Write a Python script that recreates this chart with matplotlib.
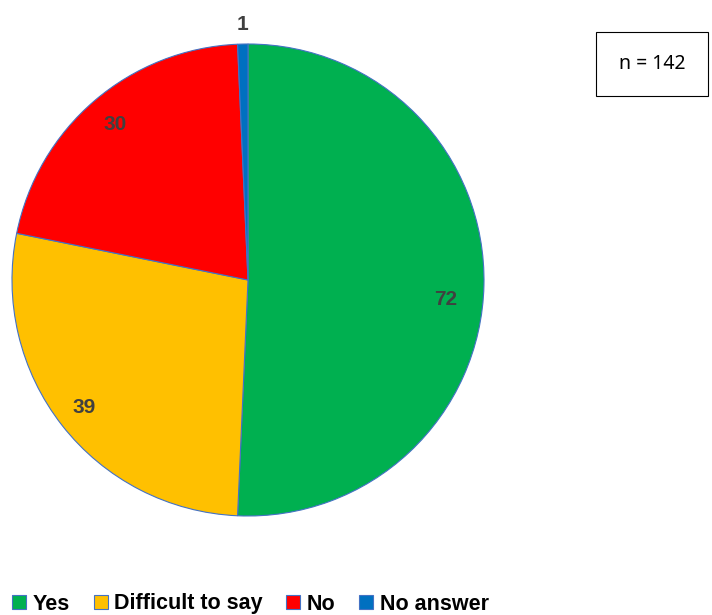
import numpy as np
import matplotlib
matplotlib.use("Agg")
import matplotlib.pyplot as plt
from matplotlib.patches import Patch

labels = ["Yes", "Difficult to say", "No", "No answer"]
counts = [72, 39, 30, 1]
colors = ["#00B050", "#FFC000", "#FF0000", "#0070C0"]
n_total = 142

# label placement (fraction of radius, angle nudge in degrees)
label_dist = [0.84, 0.88, 0.865, 1.085]
label_nudge = [-4.5, 0, 0, 0]

plt.rcParams["font.family"] = ["Noto Sans", "DejaVu Sans"]
BOLD = ["Liberation Sans", "DejaVu Sans"]

W, H = 712, 615
fig = plt.figure(figsize=(W / 100, H / 100), dpi=100)

# pie axes, placed in pixels
cx, cy, r = 248, 280, 236
ax = fig.add_axes([(cx - r) / W, (H - cy - r) / H, 2 * r / W, 2 * r / H])
wedges, _ = ax.pie(
    counts,
    colors=colors,
    startangle=90,
    counterclock=False,
    radius=1.0,
    wedgeprops=dict(edgecolor="#4472C4", linewidth=0.8),
)
for w, v, d, nd in zip(wedges, counts, label_dist, label_nudge):
    ang = np.deg2rad((w.theta1 + w.theta2) / 2 + nd)
    ax.text(d * np.cos(ang), d * np.sin(ang), str(v), ha="center", va="center",
            fontsize=15, fontweight="bold", family=BOLD, color="#404040")
ax.set_xlim(-1, 1)
ax.set_ylim(-1, 1)
ax.set_aspect("equal")
ax.axis("off")

# n box
fig.text(652 / W, 1 - 64 / H, f"n = {n_total}", ha="center", va="center", fontsize=14,
         bbox=dict(boxstyle="square,pad=1.15", facecolor="white", edgecolor="black", linewidth=0.8))

handles = [Patch(facecolor=c, edgecolor="#4472C4", linewidth=0.8) for c in colors]
fig.legend(handles, labels, loc="center left", bbox_to_anchor=(-0.004, 1 - 604 / H), ncol=4,
           frameon=False, prop=dict(family=BOLD, weight="bold", size=15.5),
           handlelength=0.65, handleheight=0.65, handletextpad=0.3, columnspacing=1.1,
           borderaxespad=0.3)

fig.savefig("out.png", dpi=100)
